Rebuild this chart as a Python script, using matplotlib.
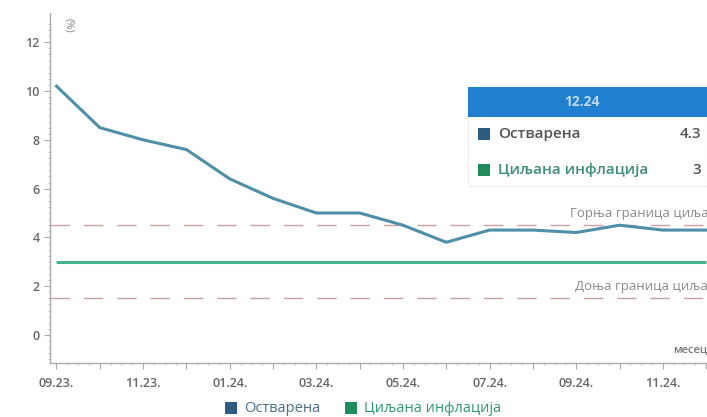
import matplotlib.pyplot as plt
from matplotlib.patches import Rectangle

plt.rcParams['font.family'] = ['Open Sans', 'DejaVu Sans']

# monthly CPI, y/y %
months = ['09.23.', '10.23.', '11.23.', '12.23.', '01.24.', '02.24.', '03.24.', '04.24.',
          '05.24.', '06.24.', '07.24.', '08.24.', '09.24.', '10.24.', '11.24.', '12.24.']
actual = [10.2, 8.5, 8.0, 7.6, 6.4, 5.6, 5.0, 5.0, 4.5, 3.8, 4.3, 4.3, 4.2, 4.5, 4.3, 4.3]
target = [3.0] * len(months)
upper_bound = 4.5
lower_bound = 1.5
y_ticks = [0, 2, 4, 6, 8, 10, 12]

name_actual = 'Остварена'
name_target = 'Циљана инфлација'

c_line = '#4f8fa9'
c_actual = '#2d5c82'
c_target = '#45b08e'
c_target_dark = '#1f8c5c'
c_band = '#c9a3a3'
c_text = '#666666'

W, H = 707, 417
fig = plt.figure(figsize=(W / 100, H / 100), dpi=100)
ax = fig.add_axes([50 / W, 1 - 363 / H, 657 / W, 350 / H])

x = list(range(len(months)))
ax.axhline(upper_bound, color=c_band, lw=1.0, dashes=(14, 10), zorder=1)
ax.axhline(lower_bound, color=c_band, lw=1.0, dashes=(14, 10), zorder=1)
ax.plot(x, target, color=c_target, lw=2.2, zorder=2, solid_capstyle='butt')
ax.plot(x, actual, color=c_line, lw=2.2, zorder=3, solid_joinstyle='round')

ax.text(15.05, upper_bound + 0.2, 'Горња граница циља', ha='right', va='bottom',
        fontsize=9.5, color='#8a8a8a')
ax.text(15.05, lower_bound + 0.2, 'Доња граница циља', ha='right', va='bottom',
        fontsize=9.5, color='#8a8a8a')

ax.set_xticks(x)
ax.set_xticklabels([m if i % 2 == 0 else '' for i, m in enumerate(months)])
ax.set_yticks(y_ticks)
ax.set_xticks([i + f for i in x[:-1] for f in (0.25, 0.5, 0.75)], minor=True)
ax.set_yticks([v / 4 for v in range(-4, 52)], minor=True)
ax.set_xlim(-0.15, 15.02)
ax.set_ylim(-1.15, 13.2)
ax.tick_params(axis='both', which='major', length=4, color='#aaaaaa',
               labelsize=9, labelcolor=c_text)
ax.tick_params(axis='x', which='major', pad=6)
ax.tick_params(axis='both', which='minor', length=1.5, color='#bbbbbb')
for lbl in ax.get_xticklabels() + ax.get_yticklabels():
    lbl.set_fontweight('semibold')
for s in ('top', 'right'):
    ax.spines[s].set_visible(False)
for s in ('left', 'bottom'):
    ax.spines[s].set_color('#aaaaaa')
    ax.spines[s].set_linewidth(1.0)

ax.text(0.02, 0.985, '(%)', transform=ax.transAxes, rotation=270, ha='left', va='top',
        fontsize=7.5, color='#888888')
ax.text(1.0, 0.02, 'месец', transform=ax.transAxes, ha='right', va='bottom',
        fontsize=8, color='#777777', fontweight='semibold')


def fx(px):
    return px / W


def fy(py):
    return 1 - py / H


# hover box for the last month
fig.add_artist(Rectangle((fx(468), fy(186)), fx(239), 99 / H, transform=fig.transFigure,
                         facecolor='white', edgecolor='#eeeeee', lw=0.8, zorder=10))
fig.add_artist(Rectangle((fx(468), fy(117)), fx(239), 30 / H, transform=fig.transFigure,
                         facecolor='#1f7fd1', edgecolor='none', zorder=11))
fig.text(fx(582), fy(102), months[-1].rstrip('.'), ha='center', va='center', fontsize=10,
         color='#bcd8f2', fontweight='bold', zorder=12)
rows = [(name_actual, actual[-1], c_actual, '#555555', 134),
        (name_target, target[-1], c_target_dark, '#3f8f78', 170)]
for name, val, sq, tc, py in rows:
    fig.add_artist(Rectangle((fx(478), fy(py + 6)), fx(12), 12 / H, transform=fig.transFigure,
                             facecolor=sq, edgecolor='none', zorder=12))
    fig.text(fx(498), fy(py), name, ha='left', va='center', fontsize=11, color=tc,
             fontweight='semibold', zorder=12)
    fig.text(fx(701), fy(py), f'{val:g}', ha='right', va='center', fontsize=11,
             color='#555555', fontweight='semibold', zorder=12)

# legend below the plot
legend = [(name_actual, c_actual, '#4a6f8f', 225), (name_target, c_target_dark, '#2f9a72', 345)]
for name, sq, tc, px in legend:
    fig.add_artist(Rectangle((fx(px), fy(414)), fx(12), 12 / H, transform=fig.transFigure,
                             facecolor=sq, edgecolor='none'))
    fig.text(fx(px + 19), fy(408), name, ha='left', va='center', fontsize=10.5, color=tc)

fig.savefig('out.png', dpi=100)
